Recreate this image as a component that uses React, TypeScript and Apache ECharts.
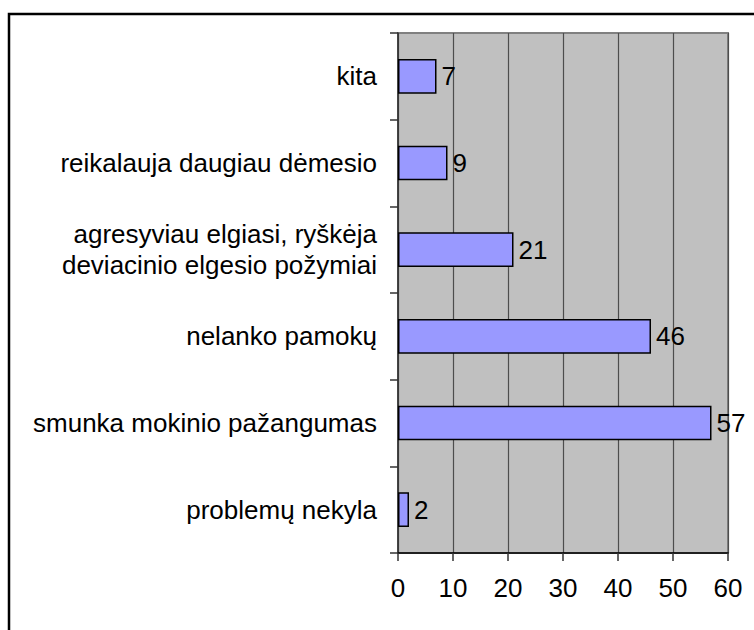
import React, { useEffect, useRef } from "react";
import * as echarts from "echarts";

const categories: string[] = [
  "kita",
  "reikalauja daugiau dėmesio",
  "agresyviau elgiasi, ryškėja\ndeviacinio elgesio požymiai",
  "nelanko pamokų",
  "smunka mokinio pažangumas",
  "problemų nekyla",
];
const values: number[] = [7, 9, 21, 46, 57, 2];
const xMin = 0;
const xMax = 60;
const xInterval = 10;

const FONT = "'Liberation Sans', Arial, sans-serif";

export default function App() {
  const ref = useRef<HTMLDivElement>(null);
  useEffect(() => {
    if (!ref.current) return;
    const chart = echarts.init(ref.current, undefined, { renderer: "svg" });
    chart.setOption({
      animation: false,
      backgroundColor: "#ffffff",
      textStyle: { fontFamily: FONT },
      grid: {
        left: 398,
        top: 33,
        width: 330,
        height: 520,
        show: true,
        backgroundColor: "#C0C0C0",
        borderColor: "#808080",
        borderWidth: 2,
        containLabel: false,
      },
      xAxis: {
        type: "value",
        min: xMin,
        max: xMax,
        interval: xInterval,
        axisLine: { show: true, lineStyle: { color: "#000", width: 1.5 } },
        axisTick: { show: true, length: 8, lineStyle: { color: "#333", width: 1.5 } },
        axisLabel: {
          color: "#000",
          fontSize: 26,
          fontFamily: FONT,
          margin: 22,
        },
        splitLine: { show: true, lineStyle: { color: "#4d4d4d", width: 1.2 } },
      },
      yAxis: {
        type: "category",
        inverse: true,
        data: categories,
        axisLine: { show: true, lineStyle: { color: "#333", width: 1.5 } },
        axisTick: { show: true, length: 8, alignWithLabel: false, lineStyle: { color: "#333", width: 1.5 } },
        axisLabel: {
          color: "#000",
          fontSize: 26,
          fontFamily: FONT,
          margin: 21,
          lineHeight: 31,
          align: "right",
        },
        splitLine: { show: false },
      },
      series: [
        {
          type: "bar",
          data: values,
          barCategoryGap: "60%",
          itemStyle: { color: "#9999FF", borderColor: "#000", borderWidth: 1.5 },
          label: {
            show: true,
            position: "right",
            distance: 5,
            color: "#000",
            fontSize: 26,
            fontFamily: FONT,
          },
        },
      ],
      graphic: [
        {
          type: "rect",
          shape: { x: 9, y: 14, width: 800, height: 700 },
          style: { fill: "none", stroke: "#000", lineWidth: 2.5 },
          silent: true,
          z: 100,
        },
      ],
    });
    return () => chart.dispose();
  }, []);
  return (
    <div
      ref={ref}
      style={{ position: "fixed", left: 0, top: 0, width: 754, height: 630 }}
    />
  );
}
